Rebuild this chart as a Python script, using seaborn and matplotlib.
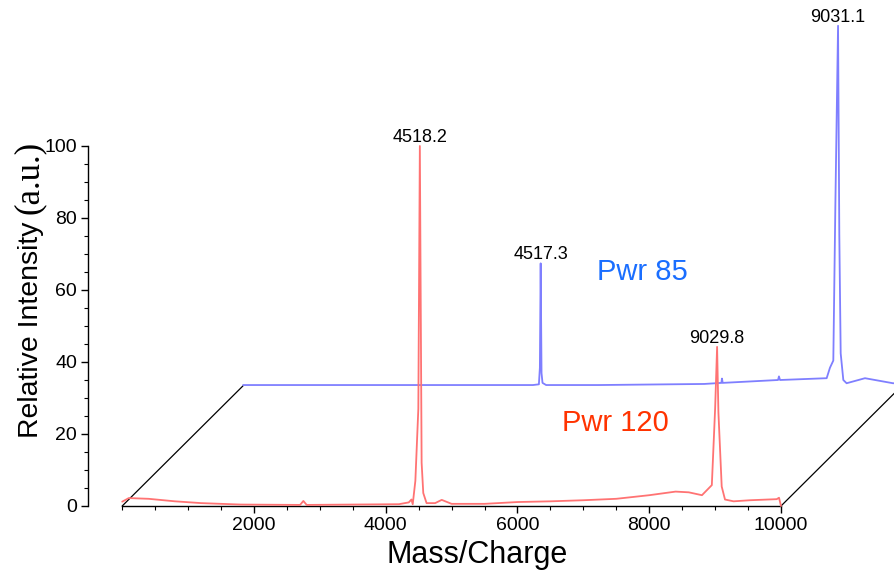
"""Waterfall view of two mass spectra (Pwr 120 in front, Pwr 85 behind)."""

import numpy as np
import matplotlib
matplotlib.use("Agg")
import matplotlib.pyplot as plt
from matplotlib.ticker import MultipleLocator
import seaborn as sns

# front spectrum, Pwr 120 (mass/charge, relative intensity)
mz_120 = [0, 100, 400, 800, 1200, 1800, 2700, 2750, 2800, 3500, 4200, 4350, 4390, 4410,
          4450, 4495, 4518, 4545, 4570, 4620, 4750, 4850, 5000, 5500, 6000, 6500, 7000,
          7500, 8000, 8400, 8600, 8800, 8950, 9000, 9030, 9050, 9100, 9150, 9280, 9530,
          9935, 9970, 10000]
int_120 = [1.2, 2.2, 2.0, 1.3, 0.8, 0.4, 0.3, 1.4, 0.3, 0.4, 0.5, 1.0, 1.8, 0.5,
           7.0, 27.0, 100.0, 12.0, 3.6, 0.8, 0.8, 1.7, 0.6, 0.6, 1.1, 1.3, 1.6,
           2.0, 3.0, 4.0, 3.8, 3.0, 5.8, 27.0, 44.2, 26.0, 5.4, 1.8, 1.3, 1.6,
           1.9, 2.3, 0.0]

# back spectrum, Pwr 85
mz_85 = [0, 1000, 2500, 4400, 4490, 4505, 4517, 4530, 4545, 4600, 5400, 7000, 7260,
         7269, 7280, 8120, 8134, 8150, 8858, 8908, 8959, 8990, 9031, 9050, 9071, 9111,
         9161, 9440, 9865, 10000]
int_85 = [0.2, 0.2, 0.2, 0.2, 0.4, 5.0, 34.0, 3.5, 0.8, 0.2, 0.2, 0.5, 0.8,
          2.0, 0.8, 1.6, 2.6, 1.6, 2.1, 5.0, 7.0, 50.0, 100.0, 42.0, 9.0, 1.6,
          0.7, 2.1, 0.7, 0.7]

peak_labels_120 = [(4518, 100.0, "4518.2"), (9030, 44.2, "9029.8")]
peak_labels_85 = [(4517, 34.0, "4517.3"), (9031, 100.0, "9031.1")]

# offset of the back plane in data units
DX, DY = 1835, 33.4
RED, BLUE = "#ff7373", "#7f7fff"

sns.set_style("ticks")
plt.rcParams["font.family"] = ["Liberation Sans", "DejaVu Sans"]
plt.rcParams["text.color"] = "black"
plt.rcParams["axes.labelcolor"] = "black"
plt.rcParams["xtick.color"] = "black"
plt.rcParams["ytick.color"] = "black"

fig = plt.figure(figsize=(8.94, 5.76), dpi=100)
ax = fig.add_axes([122.2 / 894, 70 / 576, 658.8 / 894, 360 / 576])

back_x = np.asarray(mz_85) + DX
back_y = np.asarray(int_85) + DY
sns.lineplot(x=back_x, y=back_y, ax=ax, color=BLUE, linewidth=1.3, sort=False,
             estimator=None, clip_on=False, zorder=2)
sns.lineplot(x=mz_120, y=int_120, ax=ax, color=RED, linewidth=1.3, sort=False,
             estimator=None, clip_on=False, zorder=3)

# floor edges joining the two planes
for x0 in (0, 10000):
    ax.plot([x0, x0 + DX], [0, DY], color="black", lw=0.9, clip_on=False, zorder=1)

for x, y, txt in peak_labels_120:
    ax.annotate(txt, (x, y), ha="center", va="bottom", fontsize=13, annotation_clip=False)
for x, y, txt in peak_labels_85:
    ax.annotate(txt, (x + DX, y + DY), ha="center", va="bottom", fontsize=13,
                annotation_clip=False)

ax.text(7891, 65, "Pwr 85", color="#1a6eff", fontsize=21, ha="center", va="center")
ax.text(7480, 23, "Pwr 120", color="#ff3300", fontsize=21, ha="center", va="center")

ax.set_xlim(0, 10000)
ax.set_ylim(0, 100)
ax.xaxis.set_major_locator(MultipleLocator(2000))
ax.xaxis.set_minor_locator(MultipleLocator(500))
ax.yaxis.set_major_locator(MultipleLocator(20))
ax.yaxis.set_minor_locator(MultipleLocator(5))
ax.set_xticks([2000, 4000, 6000, 8000, 10000])
ax.tick_params(axis="both", which="major", length=5, width=1, labelsize=14, pad=3,
               direction="out", color="black", labelcolor="black")
ax.tick_params(axis="both", which="minor", length=3, width=0.8, direction="out",
               color="black")

for side in ("top", "right"):
    ax.spines[side].set_visible(False)
ax.spines["left"].set_position(("outward", 24.5))
for side in ("left", "bottom"):
    ax.spines[side].set_color("black")
    ax.spines[side].set_linewidth(1.0)
ax.patch.set_alpha(0)

ax.set_xlabel("Mass/Charge", fontsize=22)
ax.xaxis.set_label_coords(0.539, -0.095)

# y label: sans part plus serif "(a.u.)", stacked along the rotated baseline
lab_x, lab_y = 38 / 894, (576 - 438) / 576
t1 = fig.text(lab_x, lab_y, "Relative Intensity", fontsize=20.4, rotation=90,
              rotation_mode="anchor", ha="left", va="baseline")
fig.canvas.draw()
top = fig.transFigure.inverted().transform(
    (0, t1.get_window_extent().y1 + 8))[1]
fig.text(lab_x, top, "(a.u.)", fontsize=25, family="Liberation Serif", rotation=90,
         rotation_mode="anchor", ha="left", va="baseline")

fig.savefig("out.png", dpi=100)
